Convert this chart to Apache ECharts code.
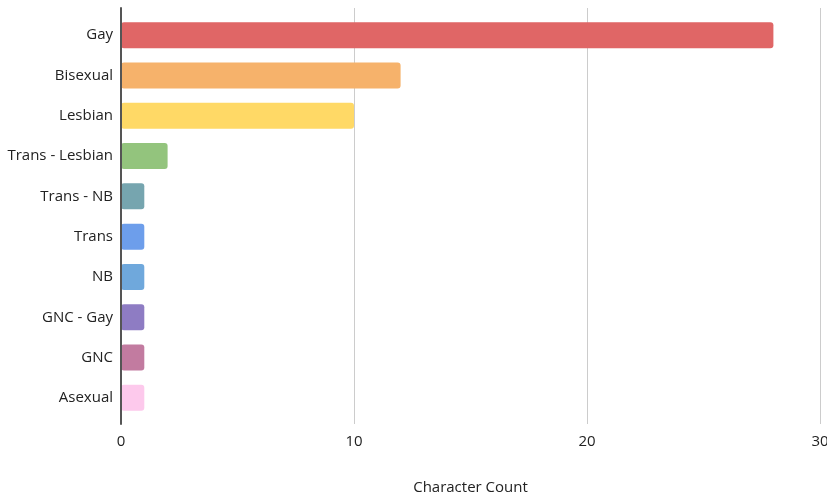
<!DOCTYPE html>
<html>
<head>
<meta charset="utf-8">
<script src="https://cdn.jsdelivr.net/npm/echarts@6/dist/echarts.min.js"></script>
<style>
  html, body { margin: 0; padding: 0; background: #fff; }
  #chart { width: 827px; height: 495px; }
</style>
</head>
<body>
<div id="chart"></div>
<script>
// Character counts by identity
const categories = ['Gay', 'Bisexual', 'Lesbian', 'Trans - Lesbian', 'Trans - NB', 'Trans', 'NB', 'GNC - Gay', 'GNC', 'Asexual'];
const counts = [28, 12, 10, 2, 1, 1, 1, 1, 1, 1];
const barColors = ['#e06666', '#f6b26b', '#ffd966', '#93c47d', '#76a5af', '#6d9eeb', '#6fa8dc', '#8e7cc3', '#c27ba0', '#fdc9ec'];
const xTicks = { min: 0, max: 30, interval: 10 };
const xTitle = 'Character Count';

const font = '"Open Sans", "DejaVu Sans", sans-serif';
const chart = echarts.init(document.getElementById('chart'), null, { renderer: 'canvas' });

chart.setOption({
  animation: false,
  backgroundColor: '#ffffff',
  grid: [
    // bars
    { left: 121, right: 7, top: 15, height: 403, outerBoundsMode: 'none', containLabel: false },
    // frame: gridlines, baseline and tick labels
    { left: 121, right: 7, top: 8, bottom: 71, outerBoundsMode: 'none', containLabel: false }
  ],
  xAxis: [
    {
      gridIndex: 0, type: 'value', min: xTicks.min, max: xTicks.max, interval: xTicks.interval,
      show: false
    },
    {
      gridIndex: 1, type: 'value', min: xTicks.min, max: xTicks.max, interval: xTicks.interval,
      axisLine: { show: false },
      axisTick: { show: false },
      splitLine: { show: true, lineStyle: { color: '#cccccc', width: 1 } },
      axisLabel: { color: '#222222', fontSize: 15, fontFamily: font, margin: 10 },
      name: xTitle,
      nameLocation: 'middle',
      nameGap: 56,
      nameTextStyle: { color: '#222222', fontSize: 15, fontFamily: font }
    }
  ],
  yAxis: [
    {
      gridIndex: 0, type: 'category', data: categories, inverse: true,
      axisLine: { show: false },
      axisTick: { show: false },
      splitLine: { show: false },
      axisLabel: { color: '#222222', fontSize: 15, fontFamily: font, margin: 8 }
    },
    {
      gridIndex: 1, type: 'value', min: 0, max: 1,
      axisLine: { show: true, lineStyle: { color: '#555555', width: 2 } },
      axisTick: { show: false },
      axisLabel: { show: false },
      splitLine: { show: false },
      z: 5
    }
  ],
  series: [{
    type: 'bar',
    xAxisIndex: 0,
    yAxisIndex: 0,
    data: counts.map((v, i) => ({ value: v, itemStyle: { color: barColors[i] } })),
    barWidth: 26,
    itemStyle: { borderRadius: 3 }
  }]
});
</script>
</body>
</html>
